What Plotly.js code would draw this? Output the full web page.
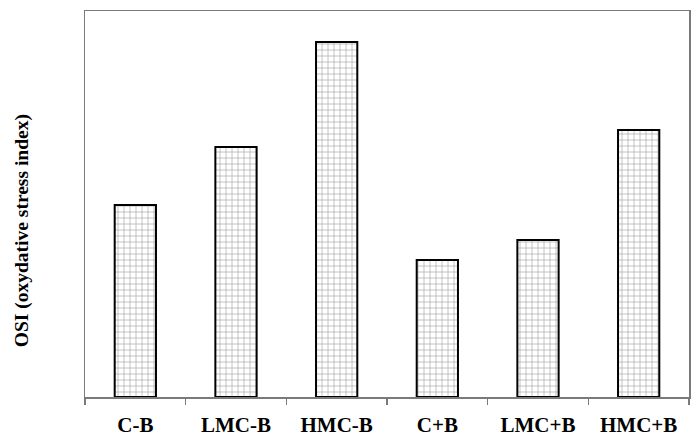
<!DOCTYPE html>
<html>
<head>
<meta charset="utf-8">
<script src="https://cdn.plot.ly/plotly-3.0.1.min.js"></script>
<style>html,body{margin:0;padding:0;background:#fff;}#chart{width:697px;height:440px;}</style>
</head>
<body>
<div id="chart"></div>
<script>
var categories = ['C-B', 'LMC-B', 'HMC-B', 'C+B', 'LMC+B', 'HMC+B'];
var osiValues = [1.92, 2.50, 3.55, 1.37, 1.57, 2.67];
var yAxisTitle = 'OSI (oxydative stress index)';

var trace = {
  type: 'bar',
  x: categories,
  y: osiValues,
  width: 0.41,
  marker: {
    color: '#ffffff',
    line: {color: '#000000', width: 2},
    pattern: {shape: '+', fgcolor: '#a0a0a0', bgcolor: '#ffffff', size: 6, solidity: 0.2}
  },
  hoverinfo: 'none'
};

var layout = {
  width: 697, height: 440,
  margin: {l: 85, r: 8, t: 11, b: 43},
  paper_bgcolor: '#ffffff', plot_bgcolor: '#ffffff',
  showlegend: false,
  font: {family: 'Liberation Serif, Times New Roman, serif', color: '#000'},
  xaxis: {
    type: 'category',
    showline: true, linecolor: '#7a7a7a', linewidth: 1.5, mirror: true,
    ticks: 'outside', tickson: 'boundaries', ticklen: 6, tickcolor: '#7a7a7a', tickwidth: 1.5,
    ticklabelstandoff: 8,
    tickfont: {size: 21, weight: 'bold', family: 'Liberation Serif, serif', color: '#000'},
    showgrid: false, zeroline: false
  },
  yaxis: {
    range: [0, 3.86],
    showline: true, linecolor: '#7a7a7a', linewidth: 1.5, mirror: true,
    showticklabels: false, ticks: '', showgrid: false, zeroline: false
  },
  annotations: [{
    text: yAxisTitle, textangle: -90,
    xref: 'paper', yref: 'paper', x: -0.104, y: 0.43,
    xanchor: 'center', yanchor: 'middle', showarrow: false,
    font: {size: 19.5, weight: 'bold', family: 'Liberation Serif, serif', color: '#000'}
  }]
};

Plotly.newPlot('chart', [trace], layout, {staticPlot: true, displayModeBar: false});
</script>
</body>
</html>
